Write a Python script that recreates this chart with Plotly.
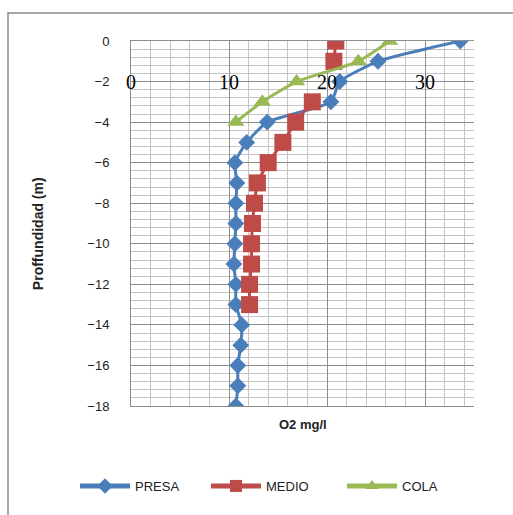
import plotly.graph_objects as go

# ---- data ----
depth_presa = [0, -1, -2, -3, -4, -5, -6, -7, -8, -9, -10, -11, -12, -13, -14, -15, -16, -17, -18]
o2_presa = [33.6, 25.2, 21.3, 20.4, 13.9, 11.8, 10.6, 10.8, 10.7, 10.7, 10.6, 10.5, 10.7, 10.7, 11.3, 11.2, 10.9, 10.9, 10.7]

depth_medio = [0, -1, -2, -3, -4, -5, -6, -7, -8, -9, -10, -11, -12, -13]
o2_medio = [20.9, 20.7, None, 18.5, 16.8, 15.5, 14.0, 12.9, 12.6, 12.4, 12.3, 12.3, 12.1, 12.1]

depth_cola = [0, -1, -2, -3, -4]
o2_cola = [26.4, 23.2, 16.9, 13.4, 10.7]

series_names = ["PRESA", "MEDIO", "COLA"]
x_tick_vals = [0, 10, 20, 30]
x_tick_text = ["0", "10", "20", "30"]
x_label_depth = -2

x_title = "O2 mg/l"
y_title = "Proffundidad (m)"

# ---- styles ----
BLUE = "#4A7EBB"
RED = "#BE4B48"
GREEN = "#98B954"
MAJOR = "#8E8E8E"
MINOR = "#C4C4C4"

fig = go.Figure()
fig.add_trace(go.Scatter(
    x=o2_presa, y=depth_presa, name=series_names[0], mode="lines+markers",
    legend="legend", showlegend=True,
    line=dict(color=BLUE, width=3, shape="spline", smoothing=0.5),
    marker=dict(symbol="diamond", size=13, color=BLUE)))
fig.add_trace(go.Scatter(
    x=o2_medio, y=depth_medio, name=series_names[1], mode="lines+markers",
    legend="legend2", showlegend=True, connectgaps=False,
    line=dict(color=RED, width=3, shape="spline", smoothing=0.5),
    marker=dict(symbol="square", size=17, color=RED)))
fig.add_trace(go.Scatter(
    x=o2_cola, y=depth_cola, name=series_names[2], mode="lines+markers",
    legend="legend3", showlegend=True,
    line=dict(color=GREEN, width=3, shape="spline", smoothing=0.5),
    marker=dict(symbol="triangle-up", size=15, color=GREEN)))

annotations = []
for v, t in zip(x_tick_vals, x_tick_text):
    annotations.append(dict(
        x=v, y=x_label_depth, xref="x", yref="y", text=t, showarrow=False,
        xanchor="center", yanchor="middle", yshift=0,
        font=dict(family="Liberation Serif", size=20, color="#000000")))

annotations.append(dict(
    x=0.5, y=-0.05, xref="paper", yref="paper", text="<b>" + x_title + "</b>",
    showarrow=False, xanchor="center", yanchor="middle",
    font=dict(family="Liberation Sans", size=13, color="#222222")))
annotations.append(dict(
    x=-0.271, y=0.471, xref="paper", yref="paper", text="<b>" + y_title + "</b>",
    showarrow=False, xanchor="center", yanchor="middle", textangle=-90,
    font=dict(family="Liberation Sans", size=14, color="#222222")))


def leg(px_left):
    return dict(orientation="h", xref="container", yref="container",
                x=px_left / 513, xanchor="left", y=1 - 486 / 515, yanchor="middle",
                font=dict(family="Liberation Sans", size=13, color="#222222"),
                itemwidth=50, itemsizing="constant", bgcolor="rgba(0,0,0,0)")


fig.update_layout(
    width=513, height=515, showlegend=True,
    margin=dict(l=131, r=39, t=41, b=109, autoexpand=False),
    paper_bgcolor="white", plot_bgcolor="white",
    font=dict(family="Liberation Sans", size=13, color="#222222"),
    annotations=annotations,
    legend=leg(75), legend2=leg(206), legend3=leg(342),
    shapes=[dict(type="rect", xref="paper", yref="paper",
                 x0=(8 - 131) / 343, x1=(540 - 131) / 343,
                 y0=(406 - 540) / 365, y1=(406 - 13) / 365,
                 line=dict(color="#8A8A8A", width=1.5), layer="below")],
)

fig.update_xaxes(
    range=[0, 35], tick0=0, dtick=10, showticklabels=False, ticks="",
    showgrid=True, gridcolor=MAJOR, gridwidth=1, zeroline=False,
    showline=True, linecolor=MAJOR, linewidth=1, mirror=True,
    minor=dict(tick0=0, dtick=2, showgrid=True, gridcolor=MINOR, gridwidth=1))
fig.update_yaxes(
    range=[-18, 0], tick0=0, dtick=2, ticks="", ticklabelstandoff=18,
    tickfont=dict(family="Liberation Sans", size=13, color="#222222"),
    showgrid=True, gridcolor=MAJOR, gridwidth=1, zeroline=False,
    showline=True, linecolor=MAJOR, linewidth=1, mirror=False,
    minor=dict(tick0=0, dtick=0.4, showgrid=True, gridcolor=MINOR, gridwidth=1))

fig.write_html("out.html")
